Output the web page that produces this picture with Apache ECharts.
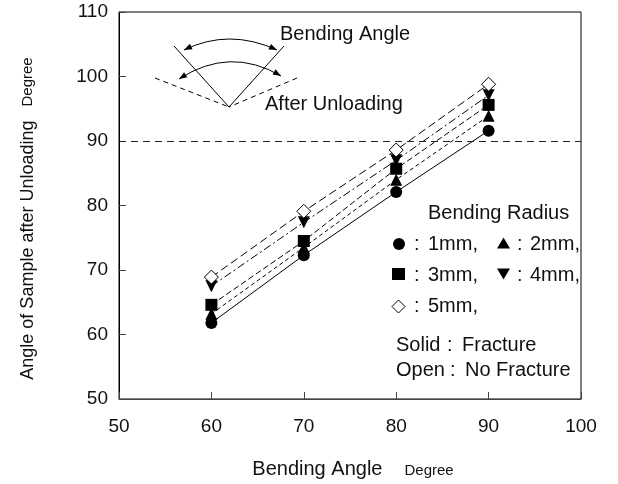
<!DOCTYPE html>
<html><head><meta charset="utf-8">
<script src="https://cdn.jsdelivr.net/npm/echarts@6/dist/echarts.min.js"></script>
<style>html,body{margin:0;padding:0;background:#fff}#c{width:618px;height:484px}</style>
</head><body><div id="c"></div>
<script>
const bendingAngles = [60, 70, 80, 90];
const r1mm = [61.8, 72.3, 82.1, 91.6];
const r2mm = [63.2, 73.5, 84.0, 93.9];
const r3mm = [64.6, 74.5, 85.7, 95.6];
const r4mm = [67.5, 77.4, 87.0, 97.1];
const r5mm = [68.9, 79.1, 88.6, 98.8];
const refLine = 90;
const xTicks = [50, 60, 70, 80, 90, 100];
const yTicks = [50, 60, 70, 80, 90, 100, 110];

const F = '"Liberation Sans", Arial, sans-serif';
const chart = echarts.init(document.getElementById('c'), null, {renderer: 'canvas'});
const pairs = v => bendingAngles.map((x, i) => [x, v[i]]);
const mk = (name, data, symbol, size, dash, fill, rot) => ({
  name, type: 'line', data: pairs(data), symbol, symbolSize: size, symbolRotate: rot || 0,
  lineStyle: {color: '#000', width: 1, type: dash},
  itemStyle: {color: fill, borderColor: '#000', borderWidth: fill === '#fff' ? 1 : 0},
  z: 3, animation: false
});

const tri = (cx, cy, w, h, up) => up
  ? [[cx, cy - h / 2], [cx - w / 2, cy + h / 2], [cx + w / 2, cy + h / 2]]
  : [[cx, cy + h / 2], [cx - w / 2, cy - h / 2], [cx + w / 2, cy - h / 2]];

const T = (x, y, t, size) => ({type: 'text', x: x, y: y,
  style: {text: t, font: (size || 20) + 'px ' + F, fill: '#111', verticalAlign: 'middle', align: 'left'}});

// arrowhead at tip (tx,ty) pointing away from (fx,fy)
const arrow = (tx, ty, fx, fy) => {
  const dx = tx - fx, dy = ty - fy, L = Math.hypot(dx, dy), ux = dx / L, uy = dy / L;
  const bx = tx - ux * 8, by = ty - uy * 8, px = -uy * 3, py = ux * 3;
  return {type: 'polygon', shape: {points: [[tx, ty], [bx + px, by + py], [bx - px, by - py]]}, style: {fill: '#000'}};
};

chart.setOption({
  animation: false,
  grid: {left: 119, right: 37, top: 12, bottom: 84, show: true, borderColor: '#000', borderWidth: 1},
  xAxis: {
    type: 'value', min: 50, max: 100, interval: 10,
    axisLine: {lineStyle: {color: '#444'}},
    axisTick: {inside: true, length: 7, lineStyle: {color: '#444'}},
    splitLine: {show: false},
    axisLabel: {color: '#111', fontSize: 19, fontFamily: F, margin: 18,
      formatter: v => xTicks.includes(v) ? String(v) : ''},
    name: '{a|Bending Angle}{b|Degree}', nameLocation: 'middle', nameGap: 60,
    nameTextStyle: {rich: {
      a: {fontSize: 20, fontFamily: F, color: '#111', padding: [0, 0, 0, 6]},
      b: {fontSize: 15, fontFamily: F, color: '#111', padding: [4, 0, 0, 22]}}}
  },
  yAxis: {
    type: 'value', min: 50, max: 110, interval: 10,
    axisLine: {lineStyle: {color: '#000'}},
    axisTick: {inside: true, length: 7, lineStyle: {color: '#444'}},
    splitLine: {show: false},
    axisLabel: {color: '#111', fontSize: 19, fontFamily: F, margin: 11,
      formatter: v => yTicks.includes(v) ? String(v) : ''},
    name: '{a|Angle of Sample after Unloading}{b|Degree}', nameLocation: 'middle', nameGap: 82, nameRotate: 90,
    nameTextStyle: {rich: {
      a: {fontSize: 18, fontFamily: F, color: '#111'},
      b: {fontSize: 15, fontFamily: F, color: '#111', padding: [0, 26, 0, 14]}}}
  },
  series: [
    Object.assign(mk('1mm', r1mm, 'circle', 12, 'solid', '#000'), {
      markLine: {silent: true, symbol: 'none', label: {show: false},
        lineStyle: {color: '#222', type: [7, 5], width: 1}, data: [{yAxis: refLine}]}
    }),
    mk('2mm', r2mm, 'triangle', 12, [4, 3], '#000'),
    mk('3mm', r3mm, 'rect', 12, [6, 3], '#000'),
    mk('4mm', r4mm, 'triangle', 12, [8, 3, 2, 3], '#000', 180),
    mk('5mm', r5mm, 'diamond', 14, [8, 4], '#fff')
  ],
  graphic: [
    // inset diagram
    {type: 'line', shape: {x1: 174, y1: 46, x2: 229, y2: 107}, style: {stroke: '#000', lineWidth: 1}},
    {type: 'line', shape: {x1: 284, y1: 46, x2: 229, y2: 107}, style: {stroke: '#000', lineWidth: 1}},
    {type: 'line', shape: {x1: 155, y1: 78, x2: 229, y2: 107}, style: {stroke: '#000', lineWidth: 1, lineDash: [5, 4]}},
    {type: 'line', shape: {x1: 297, y1: 78, x2: 229, y2: 107}, style: {stroke: '#000', lineWidth: 1, lineDash: [5, 4]}},
    {type: 'bezierCurve', shape: {x1: 184, y1: 50, cpx1: 229, cpy1: 28, x2: 277, y2: 50}, style: {stroke: '#000', lineWidth: 1, fill: null}},
    {type: 'bezierCurve', shape: {x1: 179, y1: 79, cpx1: 230, cpy1: 46, x2: 281, y2: 76}, style: {stroke: '#000', lineWidth: 1, fill: null}},
    arrow(184, 50, 229, 28), arrow(277, 50, 229, 28),
    arrow(179, 79, 230, 46), arrow(281, 76, 230, 46),
    T(280, 34, 'Bending Angle'),
    T(265, 104, 'After Unloading'),
    // legend block
    T(428, 213, 'Bending Radius'),
    {type: 'circle', shape: {cx: 399, cy: 244, r: 6}, style: {fill: '#000'}},
    T(414, 244, ':'), T(428, 244, '1mm,'),
    {type: 'polygon', shape: {points: tri(503.5, 243, 13, 11, true)}, style: {fill: '#000'}},
    T(517, 244, ':'), T(530, 244, '2mm,'),
    {type: 'rect', shape: {x: 392, y: 268, width: 13, height: 12}, style: {fill: '#000'}},
    T(414, 275, ':'), T(428, 275, '3mm,'),
    {type: 'polygon', shape: {points: tri(503.5, 274, 13, 11, false)}, style: {fill: '#000'}},
    T(517, 275, ':'), T(530, 275, '4mm,'),
    {type: 'polygon', shape: {points: [[398.5, 300], [405, 306.5], [398.5, 313], [392, 306.5]]}, style: {fill: '#fff', stroke: '#000', lineWidth: 1}},
    T(414, 306, ':'), T(428, 306, '5mm,'),
    T(396, 345, 'Solid'), T(447, 345, ':'), T(462, 345, 'Fracture'),
    T(396, 370, 'Open'), T(450, 370, ':'), T(465, 370, 'No Fracture')
  ]
});
</script></body></html>
